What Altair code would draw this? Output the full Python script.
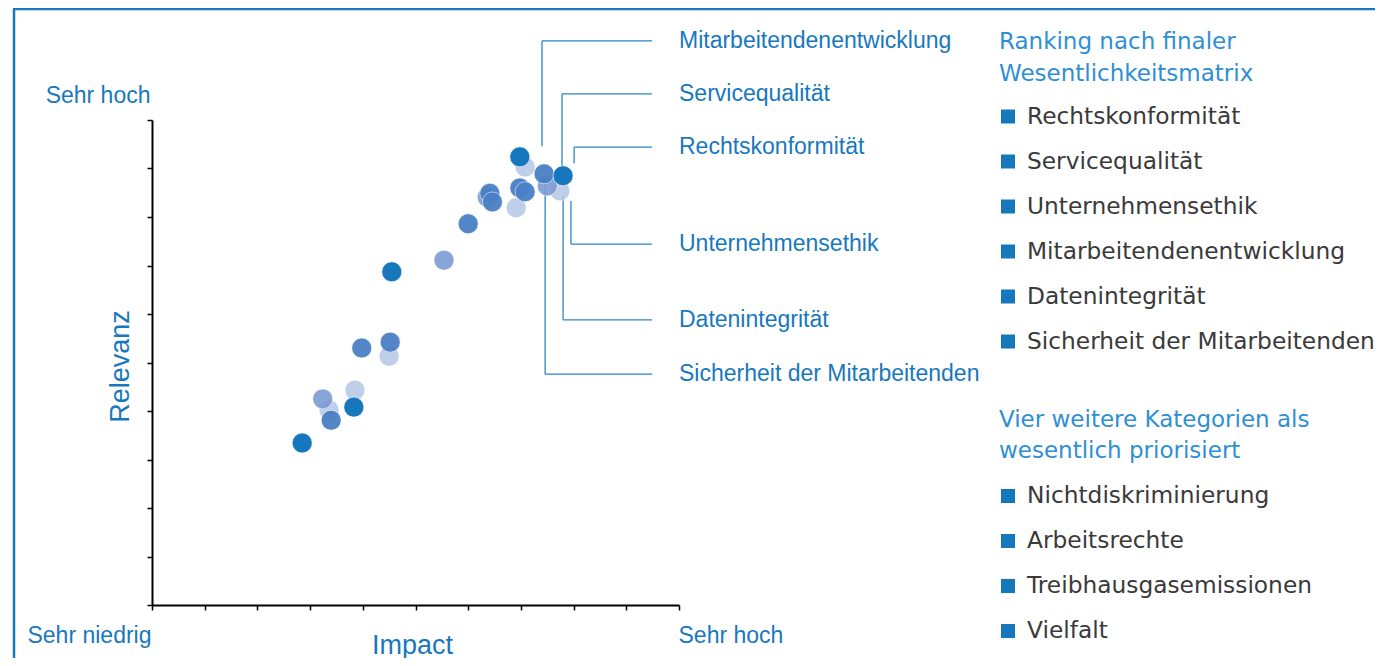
import altair as alt
import pandas as pd

BLUE = "#1878be"
LIGHT_BLUE = "#2f8fd4"
AXIS_FONT = "Liberation Sans"
LIST_FONT = "DejaVu Sans"

# --- scatter points (Impact, Relevanz, stakeholder group) ---
impact = [3.85, 4.50, 6.91, 7.74, 7.08, 3.36,
          3.24, 5.54, 6.36, 7.50,
          3.40, 3.98, 4.52, 6.00, 6.41, 6.46, 6.98, 7.08, 7.44,
          2.85, 3.83, 4.55, 6.98, 7.80]
relevanz = [4.43, 5.13, 8.19, 8.54, 9.03, 4.02,
            4.25, 7.11, 8.41, 8.64,
            3.81, 5.30, 5.42, 7.86, 8.49, 8.31, 8.60, 8.52, 8.89,
            3.34, 4.08, 6.87, 9.24, 8.85]
gruppe = ["D"] * 6 + ["C"] * 4 + ["B"] * 9 + ["A"] * 5
group_order = {"D": 0, "C": 1, "B": 2, "A": 3}

# --- leader labels ---
leader_labels = ["Mitarbeitendenentwicklung", "Servicequalität", "Rechtskonformität",
                 "Unternehmensethik", "Datenintegrität", "Sicherheit der Mitarbeitenden"]
leader_x = [7.40, 7.78, 8.01, 7.95, 7.80, 7.46]
leader_from = [9.46, 9.03, 9.11, 8.33, 8.43, 8.70]
leader_to = [11.63, 10.54, 9.44, 7.44, 5.88, 4.76]
LEADER_END = 9.49
LABEL_X = 10.0

# --- ranking list ---
header1 = ["Ranking nach finaler", "Wesentlichkeitsmatrix"]
ranking = ["Rechtskonformität", "Servicequalität", "Unternehmensethik",
           "Mitarbeitendenentwicklung", "Datenintegrität", "Sicherheit der Mitarbeitenden"]
header2 = ["Vier weitere Kategorien als", "wesentlich priorisiert"]
further = ["Nichtdiskriminierung", "Arbeitsrechte", "\u00a0Treibhausgasemissionen", "Vielfalt"]

points = pd.DataFrame({"Impact": impact, "Relevanz": relevanz, "Gruppe": gruppe})
points["z"] = points["Gruppe"].map(group_order)
points = points.sort_values("z")

leaders = pd.DataFrame({"label": leader_labels, "x": leader_x, "y0": leader_from,
                        "y1": leader_to, "xend": LEADER_END, "xl": LABEL_X})

# list layout (pixel offsets relative to the plot area)
ROW = 45
HEAD = 31.5
ITEM_TEXT_X = 875
HEAD_TEXT_X = 847
BOX_X = 856
heads, items = [], []
y = -78
for line in header1:
    heads.append({"text": line, "py": y})
    y += HEAD
y = y - HEAD + 43
for item in ranking:
    items.append({"text": item, "py": y})
    y += ROW
y = y - ROW + 78
for line in header2:
    heads.append({"text": line, "py": y})
    y += HEAD
y = y - HEAD + ROW
for item in further:
    items.append({"text": item, "py": y})
    y += ROW
heads = pd.DataFrame(heads)
heads["px"] = HEAD_TEXT_X
items = pd.DataFrame(items)
items["px"] = ITEM_TEXT_X
items["bx"] = BOX_X

xscale = alt.Scale(domain=[0, 10], nice=False, zero=False)
yscale = alt.Scale(domain=[0, 10], nice=False, zero=False)

x_axis = alt.Axis(
    values=list(range(11)),
    labelExpr="datum.value == 0 ? 'Sehr niedrig' : (datum.value == 10 ? 'Sehr hoch' : '')",
    labelAlign={"expr": "datum.value == 0 ? 'right' : 'left'"},
    labelBaseline="top", labelPadding=14, labelFontSize=23, labelColor=BLUE,
    labelFont=AXIS_FONT, labelOverlap=False, labelBound=False, labelFlush=False,
    labelOffset=-1,
    domainColor="black", domainWidth=2, tickColor="black", tickWidth=1.5, tickSize=5,
    grid=False, title="Impact", titleFont=AXIS_FONT, titleFontSize=27,
    titleFontWeight="normal", titleColor=BLUE, titleX=260, titleY=48,
    titleBaseline="alphabetic", titleAlign="center",
)
y_axis = alt.Axis(
    values=list(range(11)),
    labelExpr="datum.value == 10 ? 'Sehr hoch' : ''",
    labelAlign="right", labelBaseline="middle", labelPadding=-3, labelOffset=-25,
    labelFontSize=23, labelColor=BLUE, labelFont=AXIS_FONT, labelOverlap=False,
    labelBound=False, labelFlush=False,
    domainColor="black", domainWidth=2, tickColor="black", tickWidth=1.5, tickSize=5,
    grid=False, title="Relevanz", titleFont=AXIS_FONT, titleFontSize=27,
    titleFontWeight="normal", titleColor=BLUE, titleX=-24, titleY=246,
    titleBaseline="alphabetic", titleAlign="center", titleAngle=270,
)

one = pd.DataFrame({"a": [0]})
frame_v = alt.Chart(one).mark_rule(color=BLUE, strokeWidth=2.5).encode(
    x=alt.value(-138), y=alt.value(-111), y2=alt.value(560))
frame_h = alt.Chart(one).mark_rule(color=BLUE, strokeWidth=2.5).encode(
    x=alt.value(-139), x2=alt.value(1240), y=alt.value(-111))

pts = alt.Chart(points).mark_circle(size=400, stroke="white", strokeWidth=0.7,
                                    strokeOpacity=0.8).encode(
    x=alt.X("Impact:Q", scale=xscale, axis=x_axis),
    y=alt.Y("Relevanz:Q", scale=yscale, axis=y_axis),
    color=alt.Color("Gruppe:N", scale=alt.Scale(domain=["A", "B", "C", "D"],
                    range=["#1777bd", "#4a80c5", "#7d9bd3", "#b5c6e6"]), legend=None),
    opacity=alt.Opacity("Gruppe:N", scale=alt.Scale(domain=["A", "B", "C", "D"],
                        range=[1.0, 0.85, 0.7, 0.65]), legend=None),
    order=alt.Order("z:Q"),
)

lead_v = alt.Chart(leaders).mark_rule(color="#2a86c8", strokeWidth=1.3).encode(
    x=alt.X("x:Q", scale=xscale), y=alt.Y("y0:Q", scale=yscale), y2="y1:Q")
lead_h = alt.Chart(leaders).mark_rule(color="#2a86c8", strokeWidth=1.3).encode(
    x=alt.X("x:Q", scale=xscale), x2="xend:Q", y=alt.Y("y1:Q", scale=yscale))
lead_t = alt.Chart(leaders).mark_text(align="left", baseline="middle", font=AXIS_FONT,
                                      fontSize=23, color=BLUE).encode(
    x=alt.X("xl:Q", scale=xscale), y=alt.Y("y1:Q", scale=yscale), text="label:N")

head_text = alt.Chart(heads).mark_text(align="left", baseline="middle", font=LIST_FONT,
                                       fontSize=23, color=LIGHT_BLUE).encode(
    x=alt.X("px:Q", scale=None), y=alt.Y("py:Q", scale=None), text="text:N")
item_text = alt.Chart(items).mark_text(align="left", baseline="middle", font=LIST_FONT,
                                       fontSize=23.3, color="#3a3a3a").encode(
    x=alt.X("px:Q", scale=None), y=alt.Y("py:Q", scale=None), text="text:N")
item_box = alt.Chart(items).mark_square(size=196, color="#1777bd", opacity=1).encode(
    x=alt.X("bx:Q", scale=None), y=alt.Y("py:Q", scale=None))

chart = alt.layer(frame_v, frame_h, lead_v, lead_h, pts, lead_t,
                  item_box, head_text, item_text).properties(
    width=527, height=485,
    autosize=alt.AutoSizeParams(type="none"),
    padding={"left": 144, "top": 112, "right": 696, "bottom": 53},
    background="white",
).configure_view(stroke=None)

chart.save("out.html", embed_options={"renderer": "svg", "actions": False})
